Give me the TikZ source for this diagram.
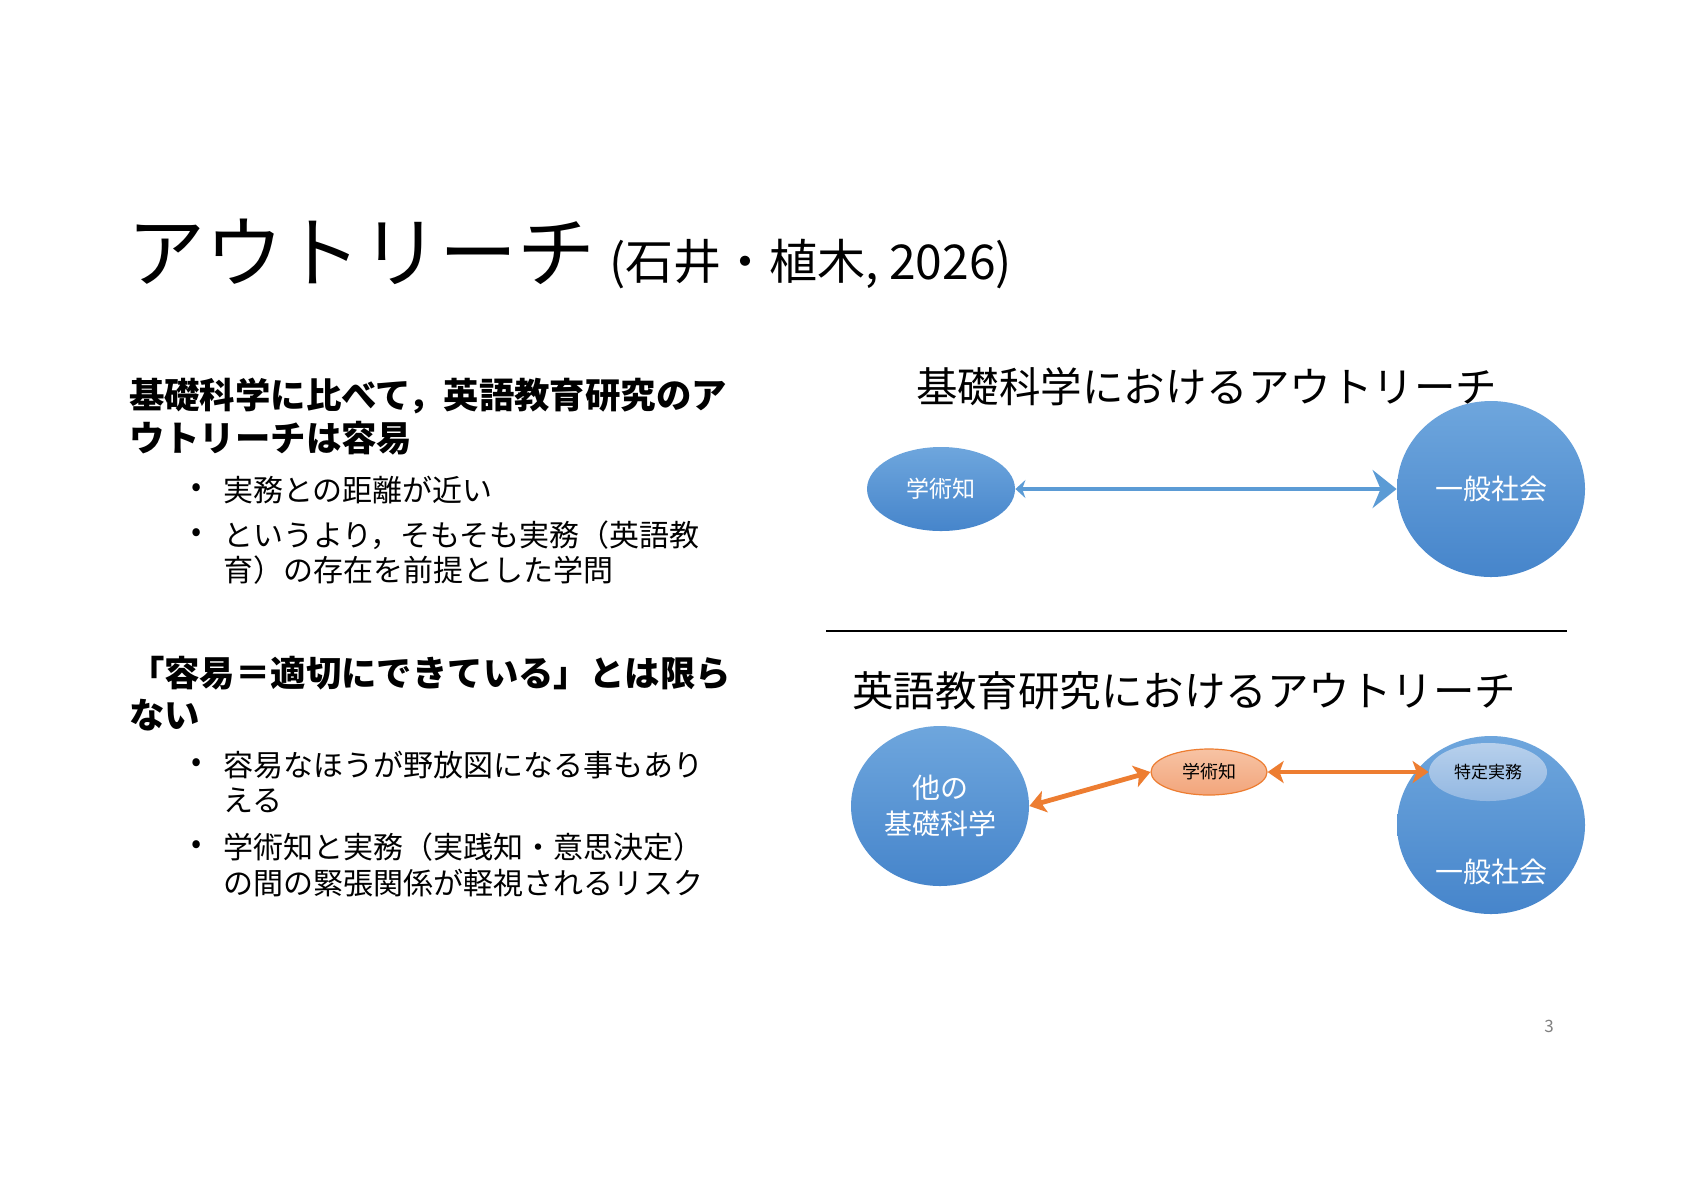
\documentclass[tikz,border=0pt]{standalone}
\usepackage{fontspec}
\setmainfont{Noto Sans CJK JP}
\usetikzlibrary{shapes.geometric,arrows.meta}
\definecolor{bluetop}{HTML}{6EA6DD}
\definecolor{bluebot}{HTML}{4685CB}
\definecolor{bluearrow}{HTML}{5B9BD5}
\definecolor{orangeline}{HTML}{ED7D31}
\definecolor{orangetop}{HTML}{F7C3A4}
\definecolor{orangebot}{HTML}{F2A57B}
\definecolor{innertop}{HTML}{B7D0EC}
\definecolor{innerbot}{HTML}{93B8E2}
\begin{document}
\begin{tikzpicture}[x=0.5pt,y=-0.5pt,
  txt/.style={anchor=west,inner sep=0pt,outer sep=0pt},
  bluell/.style={ellipse,inner sep=0pt,top color=bluetop,bottom color=bluebot,text=white},
  orangell/.style={ellipse,inner sep=0pt,top color=orangetop,bottom color=orangebot,draw=orangeline,line width=0.6pt,text=black},
  innerell/.style={ellipse,inner sep=0pt,top color=innertop,bottom color=innerbot,text=black},
  bluearr/.style={draw=bluearrow,line width=2.4pt,{Stealth[length=5pt,width=9pt]}-{Stealth[length=12pt,width=19pt,inset=4pt]}},
  orangearr/.style={draw=orangeline,line width=2.4pt,{Stealth[length=8pt,width=11pt,inset=2pt]}-{Stealth[length=8pt,width=11pt,inset=2pt]}},
  headfont/.style={font=\fontsize{17.7}{20}\selectfont\bfseries},
  bulletfont/.style={font=\fontsize{15}{17}\selectfont},
  difont/.style={font=\fontsize{20.75}{24}\selectfont}]
\path[use as bounding box,fill=white] (0,0) rectangle (1684,1191);

% Title
\node[txt,font=\fontsize{39}{42}\selectfont] (title) at (127,252) {アウトリーチ};
\node[txt,font=\fontsize{24}{26}\selectfont] (cite) at (609,264) {(石井・植木, 2026)};

% Left column
\node[txt,headfont] (h1a) at (129,396) {基礎科学に比べて，英語教育研究のア};
\node[txt,headfont] (h1b) at (129,438) {ウトリーチは容易};
\node[txt,bulletfont] (d1) at (191,490) {•};
\node[txt,bulletfont] (b1) at (223,490) {実務との距離が近い};
\node[txt,bulletfont] (d2) at (191,535) {•};
\node[txt,bulletfont] (b2a) at (223,535) {というより，そもそも実務（英語教};
\node[txt,bulletfont] (b2b) at (223,570) {育）の存在を前提とした学問};

\node[txt,headfont] (h2a) at (129,673) {「容易＝適切にできている」とは限ら};
\node[txt,headfont] (h2b) at (129,715) {ない};
\node[txt,bulletfont] (d3) at (191,765) {•};
\node[txt,bulletfont] (b3a) at (223,765) {容易なほうが野放図になる事もあり};
\node[txt,bulletfont] (b3b) at (223,800) {える};
\node[txt,bulletfont] (d4) at (191,847) {•};
\node[txt,bulletfont] (b4a) at (223,847) {学術知と実務（実践知・意思決定）};
\node[txt,bulletfont] (b4b) at (223,883) {の間の緊張関係が軽視されるリスク};

% Top diagram
\node[bluell,minimum width=94pt,minimum height=88pt] (soc1) at (1491,489) {};
\node[txt,difont] (t1) at (916,387) {基礎科学におけるアウトリーチ};
\node[bluell,minimum width=74pt,minimum height=42pt,font=\fontsize{11.5}{13}\selectfont] (gk1) at (941,489) {学術知};
\node[text=white,font=\fontsize{14}{16}\selectfont,inner sep=0pt] (soc1t) at (1491,489) {一般社会};
\draw[bluearr] (gk1.east) -- (soc1.west);

% Separator
\coordinate (sepL) at (826,631);
\coordinate (sepR) at (1567,631);
\draw[line width=1.3pt] (sepL) -- (sepR);

% Bottom diagram
\node[txt,difont] (t2) at (852,691) {英語教育研究におけるアウトリーチ};
\node[bluell,minimum width=89pt,minimum height=80pt,align=center,font=\fontsize{14}{18}\selectfont] (other) at (940,806) {他の\\基礎科学};
\node[orangell,minimum width=58pt,minimum height=23pt,font=\fontsize{9}{10}\selectfont] (gk2) at (1209,772) {学術知};
\node[bluell,minimum width=94pt,minimum height=89pt] (soc2) at (1491,825) {};
\node[innerell,minimum width=59pt,minimum height=29pt,font=\fontsize{8.5}{10}\selectfont] (spec) at (1488,772) {特定実務};
\node[text=white,font=\fontsize{14}{16}\selectfont,inner sep=0pt] (soc2t) at (1491,872) {一般社会};
\draw[orangearr] (other.east) -- (gk2.west);
\draw[orangearr] (gk2.east) -- (spec.west);

% Page number
\node[text=gray,font=\fontsize{8.5}{10}\selectfont,inner sep=0pt] (pg) at (1549,1026) {3};
\end{tikzpicture}
\end{document}
